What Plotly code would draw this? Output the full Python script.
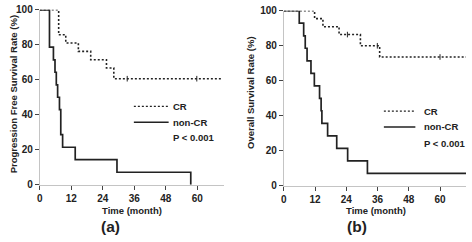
import plotly.graph_objects as go

# ---- data ----
pfs_cr_t = [0, 7.2, 9.9, 14.7, 19.4, 25.4, 28.2, 69]
pfs_cr_s = [100, 85.7, 81.0, 76.2, 71.4, 66.7, 60.6, 60.6]
pfs_cr_cens_t = [33.3, 59.8]
pfs_cr_cens_s = [60.6, 60.6]

pfs_non_t = [0, 3.7, 5.2, 5.8, 6.3, 6.8, 7.5, 8.0, 8.7, 13.5, 29.4, 57.5]
pfs_non_s = [100, 78.6, 71.4, 64.3, 57.1, 50.0, 42.9, 28.6, 21.4, 14.3, 7.1, 0]

os_cr_t = [0, 11.8, 15.0, 21.2, 29.4, 36.8, 70]
os_cr_s = [100, 95.5, 90.9, 86.4, 80.0, 73.6, 73.6]
os_cr_cens_t = [24.4, 35.9, 60.0]
os_cr_cens_s = [86.4, 80.0, 73.6]

os_non_t = [0, 5.9, 7.6, 8.2, 8.9, 10.4, 11.7, 13.7, 14.3, 14.6, 16.8, 20.3, 24.5, 32.1, 70]
os_non_s = [100, 92.9, 85.7, 78.6, 71.4, 64.3, 57.1, 50.0, 42.9, 35.7, 28.6, 21.4, 14.3, 7.1, 7.1]

x_ticks = [0, 12, 24, 36, 48, 60]
y_ticks = [0, 20, 40, 60, 80, 100]
group_labels = ["CR", "non-CR"]
p_text = "P < 0.001"
panel_labels = ["(a)", "(b)"]
y_titles = ["Progression Free Survival Rate (%)", "Overall Survival Rate (%)"]
x_title = "Time (month)"

W, H = 472, 242
FONT = "Liberation Sans, Arial, sans-serif"
INK = "#222222"

fig = go.Figure()

def add_panel(xa, ya, cr_t, cr_s, cens_t, cens_s, non_t, non_s):
    fig.add_trace(go.Scatter(x=cr_t, y=cr_s, mode="lines", line_shape="hv",
                             line=dict(color=INK, width=1.6, dash="2px,2px"),
                             xaxis=xa, yaxis=ya, showlegend=False, hoverinfo="skip"))
    fig.add_trace(go.Scatter(x=cens_t, y=cens_s, mode="markers",
                             marker=dict(symbol="line-ns", size=4,
                                         line=dict(color=INK, width=1)),
                             xaxis=xa, yaxis=ya, showlegend=False, hoverinfo="skip"))
    fig.add_trace(go.Scatter(x=non_t, y=non_s, mode="lines", line_shape="hv",
                             line=dict(color=INK, width=1.7),
                             xaxis=xa, yaxis=ya, showlegend=False, hoverinfo="skip"))

add_panel("x", "y", pfs_cr_t, pfs_cr_s, pfs_cr_cens_t, pfs_cr_cens_s, pfs_non_t, pfs_non_s)
add_panel("x2", "y2", os_cr_t, os_cr_s, os_cr_cens_t, os_cr_cens_s, os_non_t, os_non_s)

tickfont = dict(family=FONT, size=10, color=INK, weight="bold")
ax_common = dict(showgrid=False, zeroline=False, showline=True, linecolor="#c4c4c4",
                 linewidth=1, ticks="outside", ticklen=4, tickcolor="#444444",
                 tickwidth=1, tickfont=tickfont, fixedrange=True,
                 ticklabeloverflow="allow")

def px_x(p):
    return p / W

def px_y(p):
    return (H - p) / H

fig.update_layout(
    width=W, height=H, autosize=False,
    margin=dict(l=0, r=0, t=0, b=0),
    paper_bgcolor="white", plot_bgcolor="white",
    xaxis=dict(domain=[px_x(37), px_x(222)], range=[0, 70], tickvals=x_ticks,
               anchor="y", **ax_common),
    yaxis=dict(domain=[px_y(188), px_y(4)], range=[0, 100], tickvals=y_ticks,
               anchor="x", **ax_common),
    xaxis2=dict(domain=[px_x(282.7), px_x(466)], range=[0, 70], tickvals=x_ticks,
                anchor="y2", **ax_common),
    yaxis2=dict(domain=[px_y(189.3), px_y(5)], range=[0, 100], tickvals=y_ticks,
                anchor="x2", **ax_common),
)

annotations = []
shapes = []

def text(x, y, s, size, xanchor="center", angle=0):
    annotations.append(dict(x=px_x(x), y=px_y(y), xref="paper", yref="paper",
                            text=s, showarrow=False, xanchor=xanchor, yanchor="middle",
                            textangle=angle, borderpad=0, borderwidth=0,
                            font=dict(family=FONT, size=size, color=INK, weight="bold")))

# y titles
text(10, 93, y_titles[0], 9.5, angle=-90)
text(249, 91, y_titles[1], 9.5, angle=-90)
# x titles
text(129.5, 215, x_title, 9.5)
text(375, 215, x_title, 9.5)
# panel labels
text(108.5, 232.5, panel_labels[0], 15.5)
text(356.7, 232.5, panel_labels[1], 15.5)

# legends
def legend(x0, x1, y_cr, y_non, y_p, tx):
    shapes.append(dict(type="line", xref="paper", yref="paper",
                       x0=px_x(x0), x1=px_x(x1), y0=px_y(y_cr), y1=px_y(y_cr),
                       line=dict(color=INK, width=1.2, dash="2px,2px")))
    shapes.append(dict(type="line", xref="paper", yref="paper",
                       x0=px_x(x0), x1=px_x(x1), y0=px_y(y_non), y1=px_y(y_non),
                       line=dict(color=INK, width=1.5)))
    text(tx, y_cr, group_labels[0], 9.5, xanchor="left")
    text(tx, y_non, group_labels[1], 9.5, xanchor="left")
    text(tx, y_p, p_text, 9.5, xanchor="left")

legend(131.7, 166.7, 105.7, 122.3, 138.3, 171.5)
legend(383.3, 415, 110.7, 127.3, 145, 423.3)

fig.update_layout(annotations=annotations, shapes=shapes)
fig.write_html("out.html",
               config={"displayModeBar": False, "staticPlot": True},
               post_script="document.body.style.margin='0';"
                           "document.body.style.padding='0';"
                           "document.documentElement.style.overflow='hidden';")
